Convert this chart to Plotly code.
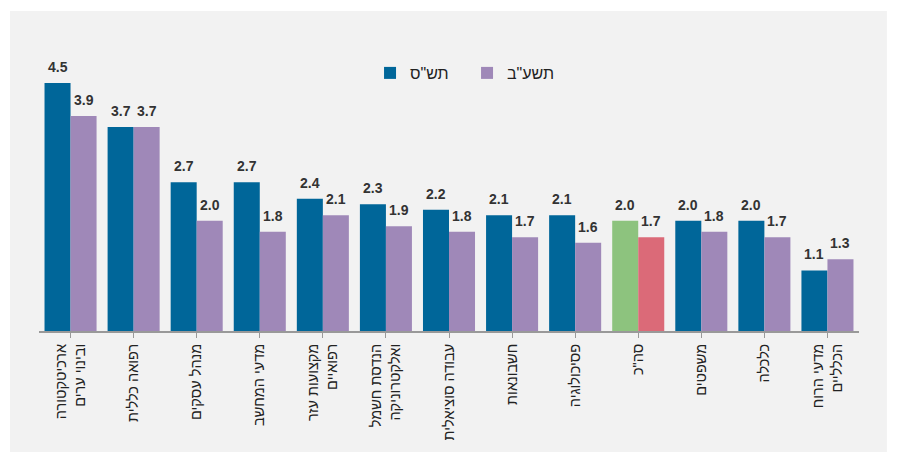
import plotly.graph_objects as go

categories = [
    "ארכיטקטורה<br>ובינוי ערים",
    "רפואה כללית",
    "מנהל עסקים",
    "מדעי המחשב",
    "מקצועות עזר<br>רפואיים",
    "הנדסת חשמל<br>ואלקטרוניקה",
    "עבודה סוציאלית",
    "חשבונאות",
    "פסיכולוגיה",
    'סה"כ',
    "משפטים",
    "כלכלה",
    "מדעי הרוח<br>הכלליים",
]
series_names = ['תש"ס', 'תשע"ב']
values_tashas = [4.5, 3.7, 2.7, 2.7, 2.4, 2.3, 2.2, 2.1, 2.1, 2.0, 2.0, 2.0, 1.1]
values_tashab = [3.9, 3.7, 2.0, 1.8, 2.1, 1.9, 1.8, 1.7, 1.6, 1.7, 1.8, 1.7, 1.3]

BLUE = "#006699"
PURPLE = "#9F88B8"
GREEN = "#8DC37E"
RED = "#DB6A78"
BARGAP = 0.175
total_idx = categories.index('סה"כ')

c1 = [GREEN if i == total_idx else BLUE for i in range(len(categories))]
c2 = [RED if i == total_idx else PURPLE for i in range(len(categories))]

x = list(range(len(categories)))

fig = go.Figure()
fig.add_bar(x=x, y=values_tashas, name=series_names[0], marker_color=c1,
            marker_line_width=0, cliponaxis=False)
fig.add_bar(x=x, y=values_tashab, name=series_names[1], marker_color=c2,
            marker_line_width=0, cliponaxis=False)

# value labels above each bar (positioned from the data through the axis scale)
half = (1 - BARGAP) / 4
annotations = []
for i in x:
    for off, vals in ((-half, values_tashas), (half, values_tashab)):
        annotations.append(dict(
            x=i + off, y=vals[i], xref="x", yref="y",
            text="<b>%.1f</b>" % vals[i], showarrow=False,
            yanchor="bottom", xanchor="center", yshift=6,
            font=dict(size=14, color="#333333"),
        ))

fig.update_layout(
    width=897, height=454,
    margin=dict(l=31, r=46, t=32, b=131, autoexpand=False),
    paper_bgcolor="white",
    plot_bgcolor="rgba(0,0,0,0)",
    barmode="group", bargap=BARGAP, bargroupgap=0,
    font=dict(family="Liberation Sans, Arial, sans-serif", color="#222222"),
    showlegend=True,
    legend=dict(orientation="h", x=0.4037, y=0.8866, xanchor="left", yanchor="middle",
                bgcolor="rgba(0,0,0,0)", font=dict(size=16, color="#222222"),
                entrywidth=52, tracegroupgap=0),
    annotations=annotations,
    shapes=[dict(type="rect", xref="paper", yref="paper",
                 x0=-0.0354, x1=1.034, y0=-0.416, y1=1.0997,
                 fillcolor="#F2F2F2", line=dict(width=0), layer="below")],
)
fig.update_xaxes(
    tickmode="array", tickvals=x, ticktext=categories,
    range=[-0.5, len(categories) - 0.5],
    tickangle=-90, tickfont=dict(size=14.5, color="#222222"),
    showline=True, linecolor="#999999", linewidth=2,
    ticks="outside", ticklen=5, tickcolor="#999999", tickwidth=1,
    showgrid=False, zeroline=False, automargin=False,
)
fig.update_yaxes(range=[0, 5.28], visible=False, showgrid=False, automargin=False)

fig.write_html("out.html")
